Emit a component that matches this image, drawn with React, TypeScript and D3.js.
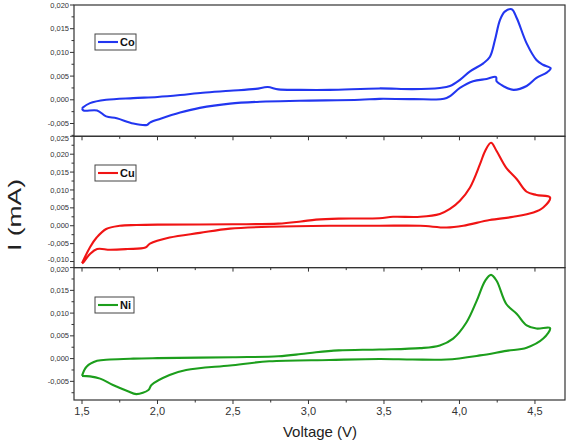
import React from "react";
import * as d3 from "d3";

const W = 567;
const H = 442;

const xTicks = [1.5, 2.0, 2.5, 3.0, 3.5, 4.0, 4.5];
const xMinorTicks = [1.75, 2.25, 2.75, 3.25, 3.75, 4.25];

const seriesNames = ["Co", "Cu", "Ni"];
const seriesColors = ["#2236f0", "#f01414", "#1c9e1c"];

const coV = [1.5, 1.553, 1.66, 1.84, 2.0, 2.15, 2.3, 2.48, 2.65, 2.73, 2.8, 2.95, 3.14, 3.47, 3.69, 3.87, 3.937, 4.003, 4.07, 4.158, 4.202, 4.235, 4.268, 4.3, 4.346, 4.38, 4.445, 4.51, 4.553, 4.604,
  4.58, 4.51, 4.445, 4.357, 4.29, 4.246, 4.242, 4.18, 4.09, 4.003, 3.915, 3.69, 3.47, 3.34, 2.94, 2.68, 2.48, 2.28, 2.15, 2.02, 1.95, 1.93, 1.84, 1.73, 1.66, 1.6, 1.51, 1.5];
const coI = [-0.00175, -0.0007, 0.0, 0.00036, 0.0006, 0.001, 0.0015, 0.0019, 0.0023, 0.0027, 0.0022, 0.0021, 0.0021, 0.0024, 0.00225, 0.0025, 0.0029, 0.0042, 0.006, 0.0077, 0.0091, 0.0126, 0.0168, 0.0186, 0.0191, 0.0172, 0.0119, 0.0084, 0.0074, 0.00667,
  0.0058, 0.0046, 0.0029, 0.0021, 0.0029, 0.0039, 0.0048, 0.0044, 0.0039, 0.0025, 0.0004, 0.00015, 0.0002, 0.0, -0.0002, -0.0004, -0.0008, -0.0017, -0.0027, -0.004, -0.0048, -0.0053, -0.005, -0.0039, -0.0035, -0.00225, -0.00225, -0.00175];

const cuV = [1.5, 1.553, 1.597, 1.66, 1.75, 1.86, 2.0, 2.5, 2.8, 2.95, 3.05, 3.2, 3.47, 3.56, 3.74, 3.87, 3.937, 4.003, 4.07, 4.136, 4.17, 4.209, 4.246, 4.31, 4.38, 4.445, 4.51, 4.6,
  4.555, 4.49, 4.357, 4.2, 4.025, 3.915, 3.74, 3.47, 3.14, 2.74, 2.48, 2.28, 2.08, 1.95, 1.92, 1.8, 1.685, 1.6, 1.553, 1.51, 1.5];
const cuI = [-0.0105, -0.006, -0.0033, -0.0009, 0.0, 0.0002, 0.0003, 0.0004, 0.0006, 0.0012, 0.0017, 0.002, 0.0021, 0.0025, 0.0025, 0.0033, 0.0047, 0.007, 0.0107, 0.0172, 0.0209, 0.0232, 0.0209, 0.0162, 0.013, 0.0095, 0.0086, 0.0079,
  0.0051, 0.0037, 0.0025, 0.0016, 0.0, -0.0005, 0.0, 0.0, 0.0, -0.0003, -0.0008, -0.002, -0.0033, -0.005, -0.0061, -0.0065, -0.0067, -0.0065, -0.0079, -0.0102, -0.0105];

const niV = [1.5, 1.53, 1.6, 1.685, 1.84, 2.0, 2.5, 2.8, 2.95, 3.05, 3.2, 3.47, 3.74, 3.87, 3.958, 4.047, 4.114, 4.17, 4.209, 4.246, 4.31, 4.38, 4.445, 4.51, 4.6,
  4.555, 4.445, 4.31, 4.136, 3.915, 3.69, 3.47, 3.14, 2.74, 2.48, 2.19, 2.08, 1.96, 1.94, 1.86, 1.8, 1.705, 1.62, 1.553, 1.5];
const niI = [-0.0038, -0.0018, -0.0005, -0.0002, 0.0, 0.0001, 0.0003, 0.0005, 0.001, 0.0014, 0.0018, 0.002, 0.0023, 0.0029, 0.0044, 0.008, 0.0127, 0.0171, 0.0184, 0.0171, 0.012, 0.0098, 0.0073, 0.0066, 0.0067,
  0.0044, 0.0024, 0.0017, 0.0007, -0.0002, -0.0002, -0.0001, -0.0003, -0.0006, -0.0015, -0.0025, -0.0036, -0.0058, -0.0069, -0.0078, -0.0071, -0.0058, -0.0044, -0.0039, -0.0038];

const coYTicks = [-0.005, 0.0, 0.005, 0.01, 0.015, 0.02];
const cuYTicks = [-0.01, -0.005, 0.0, 0.005, 0.01, 0.015, 0.02, 0.025];
const niYTicks = [-0.005, 0.0, 0.005, 0.01, 0.015, 0.02];

const coDomain = [-0.0077, 0.02];
const cuDomain = [-0.0117, 0.025];
const niDomain = [-0.0091, 0.02];

const panels = [
  { name: seriesNames[0], color: seriesColors[0], v: coV, i: coI, ticks: coYTicks, domain: coDomain, top: 5, bottom: 136.3, legY: 34, legW: 41 },
  { name: seriesNames[1], color: seriesColors[1], v: cuV, i: cuI, ticks: cuYTicks, domain: cuDomain, top: 136.3, bottom: 267.6, legY: 165, legW: 41 },
  { name: seriesNames[2], color: seriesColors[2], v: niV, i: niI, ticks: niYTicks, domain: niDomain, top: 267.6, bottom: 400, legY: 297, legW: 39 },
];

const LEFT = 74;
const RIGHT = 565;
const AX = "#333";
const FONT = "Liberation Sans, Arial, sans-serif";

const fmt = (v: number, d: number) => v.toFixed(d).replace(".", ",");

export default function App() {
  const x = d3.scaleLinear().domain([1.447, 4.699]).range([LEFT, RIGHT]);

  return (
    <div style={{ position: "absolute", left: 0, top: 0 }}>
      <svg width={W} height={H} style={{ display: "block", background: "#fff" }} fontFamily={FONT}>
        {panels.map((p, pi) => {
          const y = d3.scaleLinear().domain(p.domain).range([p.bottom, p.top]);
          const line = d3
            .line<number>()
            .x((_, k) => x(p.v[k]))
            .y((_, k) => y(p.i[k]))
            .curve(d3.curveCatmullRom.alpha(0.5));
          const minor: number[] = [];
          p.ticks.forEach((t, k) => {
            const m = t + 0.0025;
            if (y(m) >= p.top - 0.5 && y(m) <= p.bottom + 0.5) minor.push(m);
            if (k === 0) {
              const m2 = t - 0.0025;
              if (y(m2) >= p.top - 0.5 && y(m2) <= p.bottom + 0.5) minor.push(m2);
            }
          });
          const minTick = p.ticks[0];
          const maxTick = p.ticks[p.ticks.length - 1];
          return (
            <g key={p.name}>
              <path d={line(p.v) || ""} fill="none" stroke={p.color} strokeWidth={2.1} strokeLinejoin="round" />
              {p.ticks.map((t) => {
                let shift = 0;
                if (t === minTick && y(t) > p.bottom - 10) shift = -1.8;
                if (t === maxTick && pi > 0) shift = 1.8;
                return (
                  <g key={t}>
                    <line x1={LEFT - 4} x2={LEFT} y1={y(t)} y2={y(t)} stroke={AX} strokeWidth={1} />
                    <text x={LEFT - 5} y={y(t) + shift} dy="0.35em" textAnchor="end" fontSize={7.5} fill="#333">
                      {fmt(t, 3)}
                    </text>
                  </g>
                );
              })}
              {minor.map((t) => (
                <line key={"m" + t} x1={LEFT - 2.5} x2={LEFT} y1={y(t)} y2={y(t)} stroke={AX} strokeWidth={1} />
              ))}
              {xTicks.map((t) => (
                <line key={"x" + t} x1={x(t)} x2={x(t)} y1={p.bottom} y2={p.bottom + 4} stroke={AX} strokeWidth={1} />
              ))}
              {xMinorTicks.map((t) => (
                <line key={"xm" + t} x1={x(t)} x2={x(t)} y1={p.bottom} y2={p.bottom + 2.5} stroke={AX} strokeWidth={1} />
              ))}
              <rect x={LEFT} y={p.top} width={RIGHT - LEFT} height={p.bottom - p.top} fill="none" stroke={AX} strokeWidth={1.2} />
              <rect x={95} y={p.legY} width={p.legW} height={16} fill="#fff" stroke="#444" strokeWidth={1} />
              <line x1={98} x2={118} y1={p.legY + 8} y2={p.legY + 8} stroke={p.color} strokeWidth={2.1} />
              <text x={120} y={p.legY + 8} dy="0.36em" fontSize={11} fontWeight="bold" fill="#111">
                {p.name}
              </text>
            </g>
          );
        })}
        {xTicks.map((t) => (
          <text key={"xl" + t} x={x(t)} y={415} textAnchor="middle" fontSize={11} fill="#333">
            {fmt(t, 1)}
          </text>
        ))}
        <text x={320} y={437} textAnchor="middle" fontSize={15} fill="#222">
          Voltage (V)
        </text>
        <text
          transform="translate(21,215) rotate(-90)"
          textAnchor="middle"
          fontSize={18}
          fill="#222"
          textLength={72}
          lengthAdjust="spacingAndGlyphs"
        >
          I (mA)
        </text>
      </svg>
    </div>
  );
}
